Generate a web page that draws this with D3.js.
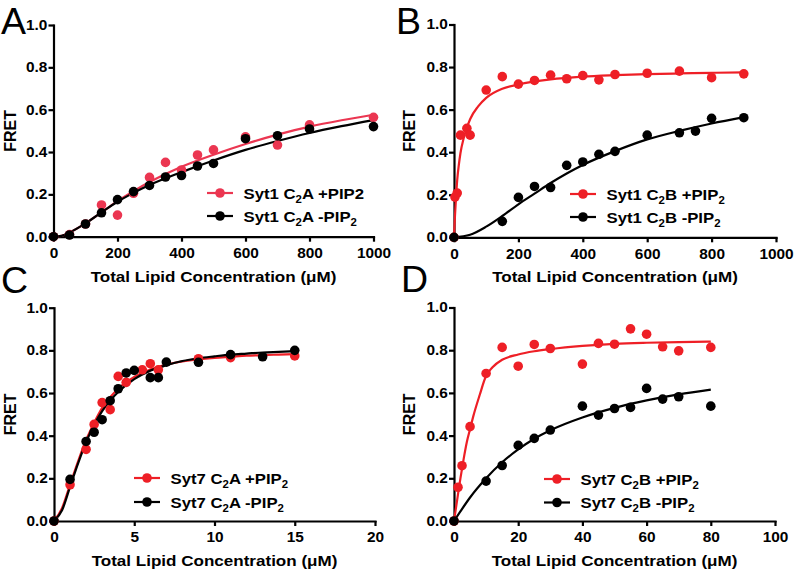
<!DOCTYPE html>
<html><head><meta charset="utf-8">
<script src="https://cdn.jsdelivr.net/npm/d3@7/dist/d3.min.js"></script>
<style>
html,body{margin:0;padding:0;background:#fff;}
svg{display:block;}
text{font-family:"Liberation Sans",Arial,Helvetica,sans-serif;}
</style></head>
<body>
<div id="chart"></div>
<script>
// ---------- DATA ----------
// Panel A: Syt1 C2A
const aPlusX  = [0,50,100,150,200,250,300,350,400,450,500,600,700,800,1000];
const aPlusY  = [0,0.01,0.06,0.15,0.102,0.205,0.28,0.351,0.315,0.386,0.41,0.472,0.433,0.528,0.564];
const aMinusX = [0,50,100,150,200,250,300,350,400,450,500,600,700,800,1000];
const aMinusY = [0,0.008,0.06,0.113,0.175,0.213,0.242,0.282,0.289,0.334,0.346,0.463,0.477,0.509,0.52];
const aFitX      = [0,25,50,100,150,200,250,300,400,500,600,700,800,900,1000];
const aFitPlusY  = [0,0.004,0.02,0.063,0.115,0.168,0.215,0.258,0.33,0.387,0.438,0.482,0.52,0.55,0.576];
const aFitMinusY = [0,0.004,0.02,0.063,0.115,0.165,0.207,0.244,0.305,0.36,0.41,0.452,0.49,0.522,0.551];

// Panel B: Syt1 C2B
const bPlusX  = [0,3,10,20,40,50,100,150,200,250,300,350,400,450,500,600,700,800,900];
const bPlusY  = [0,0.189,0.208,0.48,0.512,0.48,0.692,0.755,0.72,0.737,0.762,0.745,0.76,0.74,0.765,0.771,0.781,0.75,0.768];
const bMinusX = [0,150,200,250,300,350,400,450,500,600,700,750,800,900];
const bMinusY = [0,0.075,0.1875,0.239,0.234,0.338,0.354,0.39,0.404,0.48,0.491,0.499,0.559,0.562];
const bFitPlusX  = [0,3,6,10,15,20,30,40,50,75,100,150,200,300,400,500,600,700,800,900];
const bFitPlusY  = [0,0.1,0.18,0.27,0.34,0.395,0.465,0.515,0.555,0.615,0.655,0.698,0.718,0.742,0.755,0.762,0.767,0.77,0.773,0.775];
const bFitMinusX = [0,50,100,150,200,250,300,350,400,500,600,700,800,900];
const bFitMinusY = [0,0.012,0.05,0.1,0.155,0.205,0.255,0.3,0.34,0.405,0.46,0.5,0.535,0.565];

// Panel C: Syt7 C2A
const cPlusX  = [0,1,2,2.5,3,3.5,4,4.5,5.5,6,6.5,9,11,15];
const cPlusY  = [0,0.17,0.336,0.453,0.555,0.522,0.678,0.65,0.709,0.7375,0.709,0.761,0.766,0.774];
const cMinusX = [0,1,2,2.5,3,3.5,4,4.5,5,6,6.5,7,9,11,13,15];
const cMinusY = [0,0.195,0.373,0.416,0.475,0.564,0.62,0.694,0.706,0.672,0.672,0.745,0.744,0.78,0.77,0.80];
const cFitX      = [0,0.5,1,1.5,2,2.5,3,3.5,4,5,6,7,8,9,10,11,12,13,14,15];
const cFitPlusY  = [0,0.06,0.17,0.28,0.38,0.46,0.53,0.58,0.62,0.675,0.71,0.733,0.748,0.758,0.765,0.77,0.775,0.778,0.78,0.782];
const cFitMinusY = [0,0.05,0.16,0.27,0.37,0.45,0.515,0.565,0.605,0.665,0.705,0.73,0.75,0.763,0.772,0.78,0.785,0.79,0.793,0.796];

// Panel D: Syt7 C2B
const dPlusX  = [0,1.25,2.5,5,10,15,20,25,30,40,45,50,55,60,65,70,80];
const dPlusY  = [0,0.158,0.259,0.442,0.691,0.813,0.725,0.827,0.808,0.735,0.832,0.828,0.9,0.875,0.816,0.797,0.813];
const dMinusX = [0,10,15,20,25,30,40,45,50,55,60,65,70,80];
const dMinusY = [0,0.187,0.26,0.354,0.387,0.426,0.538,0.496,0.527,0.532,0.621,0.571,0.582,0.538];
const dFitPlusX  = [0,1,2,3,4,5,6,8,10,12,15,20,25,30,40,50,60,70,80];
const dFitPlusY  = [0,0.1,0.2,0.29,0.37,0.43,0.49,0.59,0.68,0.72,0.755,0.78,0.795,0.805,0.82,0.83,0.835,0.838,0.84];
const dFitMinusX = [0,2,5,10,15,20,25,30,40,50,60,70,80];
const dFitMinusY = [0,0.045,0.11,0.2,0.275,0.335,0.385,0.425,0.485,0.53,0.565,0.593,0.615];

// Tick labels / text
const yTicks = [0,0.2,0.4,0.6,0.8,1.0];
const xTicksAB = [0,200,400,600,800,1000];
const xTicksC = [0,5,10,15,20];
const xTicksD = [0,20,40,60,80,100];
const panelLetters = ["A","B","C","D"];
const legendA = ["Syt1 C_2A +PIP2","Syt1 C_2A -PIP_2"];
const legendB = ["Syt1 C_2B +PIP_2","Syt1 C_2B -PIP_2"];
const legendC = ["Syt7 C_2A +PIP_2","Syt7 C_2A -PIP_2"];
const legendD = ["Syt7 C_2B +PIP_2","Syt7 C_2B -PIP_2"];
const xTitle = "Total Lipid Concentration (\u03BCM)";
const yTitle = "FRET";

// ---------- LAYOUT ----------
const W = 796, H = 572, SX = 1.1, R = 4.8;
const svg = d3.select("#chart").append("svg").attr("width",W).attr("height",H);

const panels = [
  {letter:panelLetters[0], lx:1, ly:33.5, x0:53.5, x1:373.5, yTop:25, yBot:236.7, xmax:1000, xticks:xTicksAB,
   red:"#eb3651", plus:[aPlusX,aPlusY], minus:[aMinusX,aMinusY], fitPlus:[aFitX,aFitPlusY], fitMinus:[aFitX,aFitMinusY],
   legend:legendA, legX:207, legY:[193,216], fretX:16},
  {letter:panelLetters[1], lx:396, ly:33.5, x0:454, x1:776, yTop:24.5, yBot:237.3, xmax:1000, xticks:xTicksAB,
   red:"#ee1f26", plus:[bPlusX,bPlusY], minus:[bMinusX,bMinusY], fitPlus:[bFitPlusX,bFitPlusY], fitMinus:[bFitMinusX,bFitMinusY],
   legend:legendB, legX:570, legY:[194,217], fretX:414.5},
  {letter:panelLetters[2], lx:1, ly:293, x0:54, x1:375, yTop:307.7, yBot:521, xmax:20, xticks:xTicksC,
   red:"#ee1f26", plus:[cPlusX,cPlusY], minus:[cMinusX,cMinusY], fitPlus:[cFitX,cFitPlusY], fitMinus:[cFitX,cFitMinusY],
   legend:legendC, legX:134, legY:[478,502], fretX:16},
  {letter:panelLetters[3], lx:401, ly:292, x0:454, x1:775, yTop:307.5, yBot:521, xmax:100, xticks:xTicksD,
   red:"#ee1f26", plus:[dPlusX,dPlusY], minus:[dMinusX,dMinusY], fitPlus:[dFitPlusX,dFitPlusY], fitMinus:[dFitMinusX,dFitMinusY],
   legend:legendD, legX:544, legY:[479,502.5], fretX:414.5}
];

function richText(sel, str, size){
  const parts = str.split("_");
  parts.forEach((p,i)=>{
    if(i===0){ sel.append("tspan").text(p); return; }
    sel.append("tspan").attr("font-size",size*0.68).attr("dy",4).text(p[0]);
    if(p.length>1) sel.append("tspan").attr("dy",-4).text(p.slice(1));
  });
}

panels.forEach(cfg=>{
  const g = svg.append("g");
  const x = d3.scaleLinear().domain([0,cfg.xmax]).range([cfg.x0,cfg.x1]);
  const y = d3.scaleLinear().domain([0,1]).range([cfg.yBot,cfg.yTop]);

  // axes
  const xa = g.append("g").attr("transform",`translate(0,${cfg.yBot})`)
    .call(d3.axisBottom(x).tickValues(cfg.xticks).tickSize(5).tickSizeOuter(0).tickPadding(6.5).tickFormat(d3.format("d")));
  const ya = g.append("g").attr("transform",`translate(${cfg.x0},0)`)
    .call(d3.axisLeft(y).tickValues(yTicks).tickSize(5).tickSizeOuter(0).tickPadding(0.6).tickFormat(d3.format(".1f")));
  [xa,ya].forEach(a=>{
    a.select(".domain").attr("stroke","#000").attr("stroke-width",2.2).attr("stroke-linecap","square");
    a.selectAll(".tick line").attr("stroke","#000").attr("stroke-width",2.2);
    a.selectAll(".tick text").attr("fill","#000").attr("font-size",14).attr("font-weight","bold")
      .attr("transform",`scale(${SX},1)`);
  });

  // fit curves
  const line = d3.line().x(d=>x(d[0])).y(d=>y(d[1])).curve(d3.curveMonotoneX);
  const fp = d3.zip(cfg.fitPlus[0],cfg.fitPlus[1]);
  const fm = d3.zip(cfg.fitMinus[0],cfg.fitMinus[1]);
  g.append("path").datum(fp).attr("d",line).attr("fill","none").attr("stroke",cfg.red).attr("stroke-width",2.2);
  g.append("path").datum(fm).attr("d",line).attr("fill","none").attr("stroke","#000").attr("stroke-width",2.2);

  // points
  g.append("g").selectAll("circle").data(d3.zip(cfg.plus[0],cfg.plus[1])).join("circle")
    .attr("cx",d=>x(d[0])).attr("cy",d=>y(d[1])).attr("r",R).attr("fill",cfg.red);
  g.append("g").selectAll("circle").data(d3.zip(cfg.minus[0],cfg.minus[1])).join("circle")
    .attr("cx",d=>x(d[0])).attr("cy",d=>y(d[1])).attr("r",R).attr("fill","#000");

  // legend
  const cols = [cfg.red,"#000"];
  cfg.legend.forEach((lab,i)=>{
    const ly = cfg.legY[i];
    g.append("line").attr("x1",cfg.legX).attr("x2",cfg.legX+26).attr("y1",ly).attr("y2",ly)
      .attr("stroke",cols[i]).attr("stroke-width",2.2);
    g.append("circle").attr("cx",cfg.legX+13).attr("cy",ly).attr("r",R).attr("fill",cols[i]);
    const t = g.append("text").attr("transform",`translate(${cfg.legX+36.5},${ly+5.5}) scale(1.08,1)`)
      .attr("font-size",15.5).attr("font-weight","bold").attr("fill","#000");
    richText(t, lab, 15.5);
  });

  // axis titles
  g.append("text").attr("transform",`translate(${(cfg.x0+cfg.x1)/2},${cfg.yBot+45}) scale(${SX},1)`)
    .attr("text-anchor","middle").attr("font-size",15.5).attr("font-weight","bold").text(xTitle);
  g.append("text").attr("transform",`translate(${cfg.fretX},${(cfg.yTop+cfg.yBot)/2}) rotate(-90)`)
    .attr("text-anchor","middle").attr("font-size",16).attr("font-weight","bold").text(yTitle);

  // panel letter
  g.append("text").attr("x",cfg.lx).attr("y",cfg.ly).attr("font-size",37.5).text(cfg.letter);
});
</script>
</body></html>
